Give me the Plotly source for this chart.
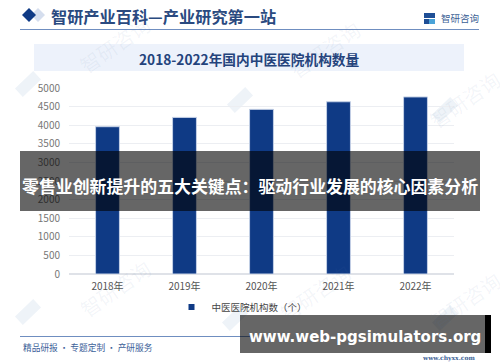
import plotly.graph_objects as go

W, H = 500, 362
years = ["2018年", "2019年", "2020年", "2021年", "2022年"]
hospitals = [3960, 4210, 4426, 4630, 4760]
y_ticks = [0, 500, 1000, 1500, 2000, 2500, 3000, 3500, 4000, 4500, 5000]
series_name = "中医医院机构数（个）"
header = "<b>智研产业百科—产业研究第一站</b>"
chart_title = "<b>2018-2022年国内中医医院机构数量</b>"
banner = "<b>零售业创新提升的五大关键点：驱动行业发展的核心因素分析</b>"
site = "<b>www.web-pgsimulators.org</b>"
footer = "精品研报 · 专题定制 · 产研服务"
brand = "智研咨询"
brand_url = "<b>www.chyxx.com</b>"
SANS = "Noto Sans CJK SC, sans-serif"
BLUE = "#0f3a85"


def px(x):
    return x / W


def py(y):
    return 1 - y / H


def rect(x0, y0, x1, y1, color, opacity=1.0, layer="above"):
    return dict(type="rect", xref="paper", yref="paper", x0=px(x0), x1=px(x1), y0=py(y0), y1=py(y1),
                fillcolor=color, opacity=opacity, line_width=0, layer=layer)


def label(x, y, text, size, color, anchor="left", family=SANS, **kw):
    return dict(xref="paper", yref="paper", x=px(x), y=py(y), text=text, showarrow=False, xanchor=anchor,
                yanchor="middle", font=dict(size=size, color=color, family=family), **kw)


def diamond(cx, cy, r, color):
    return dict(type="path", xref="paper", yref="paper", layer="above", fillcolor=color, line_width=0,
                path=f"M{px(cx-r)},{py(cy)} L{px(cx)},{py(cy-r)} L{px(cx+r)},{py(cy)} L{px(cx)},{py(cy+r)} Z")


def faint_logo(cx, cy):
    # tilted square blocks of the faint watermark logo
    s = 13
    path = (f"M{px(cx-s)},{py(cy+s*0.35)} L{px(cx+s*0.4)},{py(cy-s)} "
            f"L{px(cx+s)},{py(cy-s*0.35)} L{px(cx-s*0.4)},{py(cy+s)} Z")
    return dict(type="path", xref="paper", yref="paper", layer="below", fillcolor="#eef3f8",
                line_width=0, path=path)


shapes = [faint_logo(x, y) for x, y in [(28, 84), (240, 100), (28, 312), (235, 318), (445, 110), (445, 318)]]
shapes += [
    rect(34, 44, 464, 71, "#edf2fb", layer="below"),
    rect(20, 29, 479, 29.8, "#3f68ab"),
    rect(20, 336, 250, 336.8, "#3f68ab"),
    diamond(38, 15, 7, "#d5deee"),
    diamond(29, 15, 7, BLUE),
    rect(424, 13, 429, 18, "#1f4f96"),
    rect(429, 13, 435, 18, "#1f4f96"),
    rect(424, 19, 429, 24, "#1f4f96"),
    rect(429, 19, 435, 24, "#4aa3d8"),
    rect(20, 151, 480, 211, "#000000", 0.6),
    rect(240, 315, 485, 353, "#000000", 0.6),
    rect(485, 315, 491, 353, "#000000"),
]

annotations = [
    label(49, 16, header, 16.2, "#2a4a80"),
    label(439, 18, brand, 9.5, "#3c5f95"),
    label(249, 59, chart_title, 13.7, "#24437c", "center"),
    label(250, 185, banner, 16.9, "#ffffff", "center"),
    label(365, 337, site, 15, "#ffffff", "center", "DejaVu Sans"),
    label(21, 347, footer, 8.7, "#3c6199"),
    label(477, 358, brand_url, 6, "#3c5f95", "right", "DejaVu Serif"),
]
for wx, wy in [(115, 45), (325, 50), (115, 288), (315, 292), (465, 100), (465, 300)]:
    annotations.append(label(wx, wy, "智研咨询", 20, "rgba(90,120,165,0.07)", "center", textangle=-35))

fig = go.Figure()
fig.add_trace(go.Bar(x=years, y=hospitals, name=series_name, width=0.31, showlegend=False,
                     marker=dict(color=BLUE, line=dict(color="#c4d0e6", width=1))))
fig.add_trace(go.Scatter(x=[None], y=[None], mode="markers", name=series_name,
                         marker=dict(symbol="square", size=6, color=BLUE)))
fig.update_layout(
    width=W, height=H, margin=dict(l=0, r=0, t=0, b=0), autosize=False,
    paper_bgcolor="white", plot_bgcolor="rgba(0,0,0,0)",
    xaxis=dict(domain=[px(69), px(454)], automargin=False, showgrid=False, ticks="", showline=False,
               ticklabelstandoff=5, tickfont=dict(size=10, color="#555555", family=SANS)),
    yaxis=dict(domain=[py(274), py(88)], automargin=False, range=[0, 5000], tickvals=y_ticks, gridcolor="#eceef2",
               gridwidth=1, zeroline=True, zerolinecolor="#dfe2e8", ticks="", ticklabelstandoff=8,
               tickfont=dict(size=10, color="#777777", family=SANS)),
    showlegend=True,
    legend=dict(orientation="h", x=px(242), y=py(307), xanchor="center", yanchor="middle", bgcolor="rgba(0,0,0,0)",
                font=dict(size=9.5, color="#444444", family=SANS), itemwidth=30),
    shapes=shapes, annotations=annotations,
)
fig.write_html("out.html", config={"displayModeBar": False}, post_script="document.body.style.margin='0';")
